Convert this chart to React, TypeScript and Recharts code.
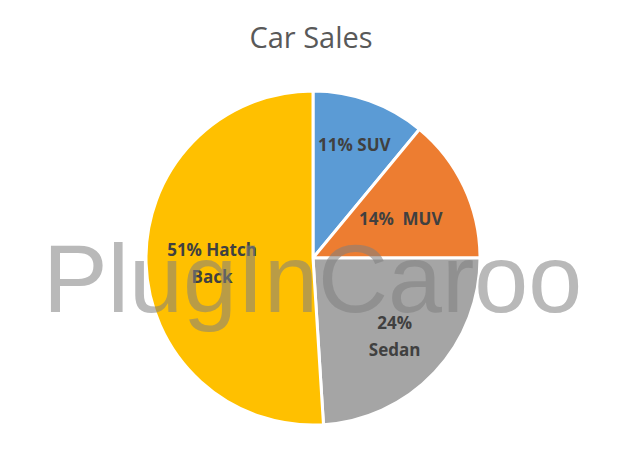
import { PieChart, Pie, Cell } from "recharts";

const categories = ["SUV", "MUV", "Sedan", "Hatch Back"];
const sales = [11, 14, 24, 51];
const labelLines = [["11% SUV"], ["14%  MUV"], ["24%", "Sedan"], ["51% Hatch", "Back"]];

const colors = ["#5B9BD5", "#ED7D31", "#A5A5A5", "#FFC000"];
// distance of each data label from the centre, like Excel's "best fit"
const labelRadius = [122, 97, 112, 101];

const data = categories.map((name, i) => ({ name, value: sales[i] }));

const RAD = Math.PI / 180;

function renderLabel(props: any) {
  const { cx, cy, midAngle, index } = props;
  const r = labelRadius[index];
  const x = cx + r * Math.cos(-midAngle * RAD);
  const y = cy + r * Math.sin(-midAngle * RAD);
  const lines = labelLines[index];
  const lh = 27;
  const first = y - ((lines.length - 1) * lh) / 2 + 8;
  return (
    <text
      x={x}
      y={first}
      textAnchor="middle"
      fill="#404040"
      fontFamily="'Open Sans', sans-serif"
      fontWeight="bold"
      fontSize={17}
    >
      {lines.map((line, i) => (
        <tspan key={i} x={x} dy={i === 0 ? 0 : lh} style={{ whiteSpace: "pre" }}>
          {line}
        </tspan>
      ))}
    </text>
  );
}

export default function App() {
  return (
    <div
      style={{
        position: "absolute",
        left: 0,
        top: 0,
        width: 625,
        height: 466,
        background: "#FFFFFF",
      }}
    >
      <div
        style={{
          position: "absolute",
          top: 17,
          width: 622,
          textAlign: "center",
          fontFamily: "'Open Sans', sans-serif",
          fontSize: 29,
          color: "#595959",
        }}
      >
        Car Sales
      </div>
      <PieChart width={625} height={466} margin={{ top: 0, right: 0, bottom: 0, left: 0 }}>
        <Pie
          data={data}
          dataKey="value"
          nameKey="name"
          cx={313}
          cy={258}
          outerRadius={167}
          startAngle={90}
          endAngle={-270}
          stroke="#FFFFFF"
          strokeWidth={3}
          label={renderLabel}
          labelLine={false}
          isAnimationActive={false}
        >
          {data.map((d, i) => (
            <Cell key={d.name} fill={colors[i]} />
          ))}
        </Pie>
      </PieChart>
      <div
        style={{
          position: "absolute",
          left: 0,
          top: 219,
          width: 625,
          textAlign: "center",
          fontFamily: "'Liberation Sans', Arial, sans-serif",
          fontSize: 97,
          lineHeight: "120px",
          color: "#808080",
          opacity: 0.55,
          pointerEvents: "none",
        }}
      >
        PlugInCaroo
      </div>
    </div>
  );
}
